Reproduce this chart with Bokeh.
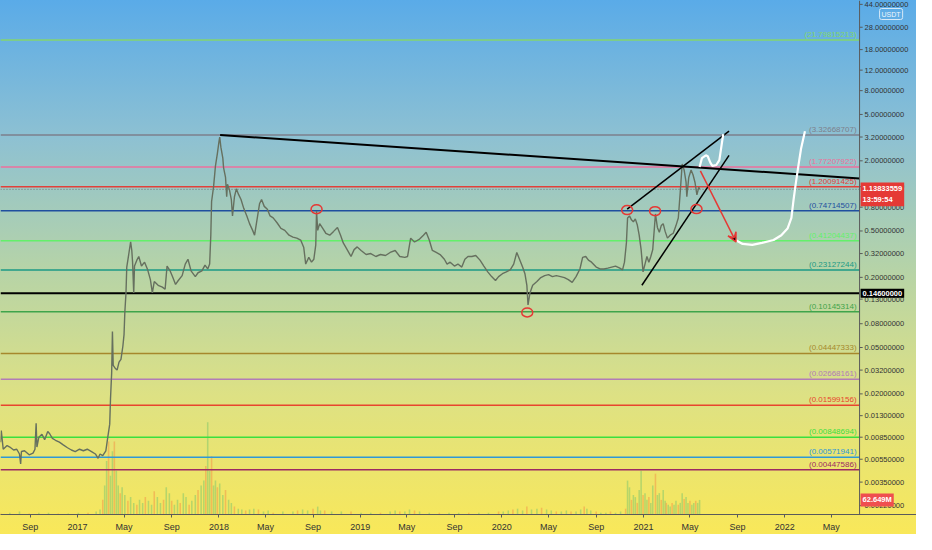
import pandas as pd

from bokeh.plotting import figure
from bokeh.models import (
    Range1d,
    LinearScale,
    FixedTicker,
    Span,
    Label,
    Arrow,
    VeeHead,
)
from bokeh.core.properties import value
from bokeh.embed import file_html
from bokeh.resources import INLINE

price_dates = [
    "2016-06-16", "2016-06-18", "2016-06-23", "2016-07-03", "2016-07-10", "2016-07-20",
    "2016-07-28", "2016-08-04", "2016-08-07", "2016-08-09", "2016-08-17", "2016-08-29",
    "2016-09-08", "2016-09-13", "2016-09-16", "2016-09-18", "2016-09-23", "2016-10-01",
    "2016-10-08", "2016-10-16", "2016-10-21", "2016-10-28", "2016-11-05", "2016-11-15",
    "2016-11-25", "2016-12-06", "2016-12-16", "2016-12-26", "2017-01-06", "2017-01-16",
    "2017-01-26", "2017-02-06", "2017-02-16", "2017-02-23", "2017-02-28", "2017-03-07",
    "2017-03-15", "2017-03-20", "2017-03-25", "2017-03-27", "2017-03-30", "2017-04-01",
    "2017-04-03", "2017-04-08", "2017-04-13", "2017-04-18", "2017-04-23", "2017-04-28",
    "2017-05-01", "2017-05-03", "2017-05-06", "2017-05-08", "2017-05-13", "2017-05-18",
    "2017-05-21", "2017-05-23", "2017-05-26", "2017-05-28", "2017-06-03", "2017-06-08",
    "2017-06-15", "2017-06-23", "2017-07-01", "2017-07-08", "2017-07-13", "2017-07-18",
    "2017-07-28", "2017-08-08", "2017-08-15", "2017-08-20", "2017-08-28", "2017-09-03",
    "2017-09-11", "2017-09-18", "2017-09-28", "2017-10-06", "2017-10-13", "2017-10-21",
    "2017-11-01", "2017-11-08", "2017-11-18", "2017-11-26", "2017-12-03", "2017-12-08",
    "2017-12-11", "2017-12-13", "2017-12-18", "2017-12-23", "2017-12-28", "2018-01-01",
    "2018-01-03", "2018-01-06", "2018-01-11", "2018-01-13", "2018-01-18", "2018-01-21",
    "2018-01-23", "2018-01-28", "2018-02-02", "2018-02-05", "2018-02-10", "2018-02-15",
    "2018-02-20", "2018-02-27", "2018-03-06", "2018-03-14", "2018-03-21", "2018-03-29",
    "2018-04-03", "2018-04-08", "2018-04-16", "2018-04-21", "2018-04-28", "2018-05-06",
    "2018-05-13", "2018-05-21", "2018-05-31", "2018-06-10", "2018-06-20", "2018-07-01",
    "2018-07-11", "2018-07-21", "2018-07-31", "2018-08-08", "2018-08-13", "2018-08-21",
    "2018-08-28", "2018-09-03", "2018-09-08", "2018-09-10", "2018-09-13", "2018-09-18",
    "2018-09-26", "2018-10-04", "2018-10-14", "2018-10-24", "2018-11-03", "2018-11-11",
    "2018-11-18", "2018-11-28", "2018-12-08", "2018-12-16", "2018-12-24", "2019-01-03",
    "2019-01-16", "2019-01-28", "2019-02-10", "2019-02-22", "2019-03-07", "2019-03-19",
    "2019-04-01", "2019-04-13", "2019-04-26", "2019-05-03", "2019-05-11", "2019-05-21",
    "2019-06-03", "2019-06-13", "2019-06-20", "2019-06-28", "2019-07-06", "2019-07-16",
    "2019-07-26", "2019-08-06", "2019-08-13", "2019-08-21", "2019-09-01", "2019-09-10",
    "2019-09-20", "2019-09-28", "2019-10-06", "2019-10-16", "2019-10-26", "2019-11-06",
    "2019-11-16", "2019-11-26", "2019-12-06", "2019-12-16", "2019-12-24", "2020-01-03",
    "2020-01-13", "2020-01-23", "2020-02-01", "2020-02-09", "2020-02-16", "2020-02-24",
    "2020-03-01", "2020-03-06", "2020-03-09", "2020-03-14", "2020-03-21", "2020-04-01",
    "2020-04-11", "2020-04-21", "2020-05-01", "2020-05-11", "2020-05-21", "2020-06-01",
    "2020-06-11", "2020-06-21", "2020-07-01", "2020-07-11", "2020-07-21", "2020-07-28",
    "2020-08-05", "2020-08-12", "2020-08-20", "2020-09-01", "2020-09-11", "2020-09-21",
    "2020-10-01", "2020-10-11", "2020-10-21", "2020-11-01", "2020-11-08", "2020-11-13",
    "2020-11-18", "2020-11-21", "2020-11-26", "2020-12-01", "2020-12-06", "2020-12-11",
    "2020-12-16", "2020-12-21", "2020-12-26", "2020-12-31", "2021-01-05", "2021-01-10",
    "2021-01-15", "2021-01-20", "2021-01-25", "2021-02-01", "2021-02-06", "2021-02-11",
    "2021-02-16", "2021-02-21", "2021-02-26", "2021-03-04", "2021-03-11", "2021-03-19",
    "2021-03-26", "2021-04-01", "2021-04-06", "2021-04-11", "2021-04-16", "2021-04-21",
    "2021-04-23", "2021-04-28", "2021-05-04", "2021-05-09", "2021-05-14", "2021-05-19",
    "2021-05-24", "2021-05-26",
]
price_values = [
    0.0077, 0.0097, 0.0067, 0.0072, 0.0070, 0.0066,
    0.0067, 0.0061, 0.0050, 0.0064, 0.0065, 0.0060,
    0.0062, 0.0067, 0.0112, 0.0070, 0.0085, 0.0090,
    0.0081, 0.0095, 0.0091, 0.0083, 0.0080, 0.0077,
    0.0073, 0.0069, 0.0066, 0.0064, 0.0067, 0.0065,
    0.0067, 0.0064, 0.0061, 0.0056, 0.0061, 0.0059,
    0.0065, 0.0085, 0.0110, 0.0181, 0.0302, 0.0686,
    0.0352, 0.0332, 0.0320, 0.0374, 0.0395, 0.0515,
    0.0649, 0.100, 0.147, 0.245, 0.314, 0.403,
    0.340, 0.270, 0.147, 0.250, 0.281, 0.302,
    0.250, 0.270, 0.232, 0.191, 0.147, 0.184,
    0.171, 0.165, 0.158, 0.250, 0.227, 0.203,
    0.174, 0.188, 0.207, 0.260, 0.286, 0.227,
    0.203, 0.219, 0.227, 0.255, 0.236, 0.260,
    0.460, 0.895, 1.19, 1.81, 2.32, 2.91,
    3.20, 2.62, 2.11, 1.74, 1.44, 0.984,
    1.26, 1.13, 0.930, 0.673, 0.984, 1.15,
    1.04, 0.930, 0.782, 0.673, 0.578, 0.506,
    0.460, 0.588, 0.861, 0.930, 0.813, 0.769,
    0.673, 0.647, 0.588, 0.526, 0.506, 0.460,
    0.443, 0.434, 0.418, 0.360, 0.260, 0.297,
    0.270, 0.286, 0.380, 0.740, 0.506, 0.578,
    0.526, 0.478, 0.460, 0.496, 0.536, 0.460,
    0.395, 0.346, 0.302, 0.346, 0.365, 0.340,
    0.314, 0.320, 0.302, 0.314, 0.308, 0.327,
    0.340, 0.302, 0.297, 0.302, 0.434, 0.402,
    0.426, 0.460, 0.487, 0.418, 0.340, 0.327,
    0.314, 0.286, 0.260, 0.270, 0.250, 0.260,
    0.245, 0.286, 0.302, 0.302, 0.308, 0.281,
    0.250, 0.223, 0.203, 0.188, 0.203, 0.215,
    0.223, 0.232, 0.260, 0.327, 0.286, 0.245,
    0.215, 0.171, 0.116, 0.147, 0.171, 0.184,
    0.199, 0.207, 0.211, 0.203, 0.207, 0.203,
    0.199, 0.191, 0.181, 0.203, 0.236, 0.297,
    0.302, 0.281, 0.270, 0.245, 0.236, 0.236,
    0.240, 0.245, 0.250, 0.240, 0.232, 0.270,
    0.395, 0.647, 0.673, 0.623, 0.599, 0.635,
    0.566, 0.460, 0.346, 0.223, 0.260, 0.302,
    0.270, 0.302, 0.346, 0.700, 0.536, 0.487,
    0.556, 0.578, 0.496, 0.434, 0.460, 0.478,
    0.556, 0.647, 1.08, 1.88, 1.67, 1.31,
    0.984, 1.44, 1.67, 1.52, 1.31, 1.02,
    1.19, 1.13833559,
]

vol_dates = [
    "2016-06-16", "2016-07-10", "2016-08-04", "2016-08-29", "2016-09-23", "2016-10-18",
    "2016-11-12", "2016-12-08", "2017-01-03", "2017-01-28", "2017-02-18", "2017-02-28",
    "2017-03-07", "2017-03-12", "2017-03-17", "2017-03-22", "2017-03-27", "2017-04-01",
    "2017-04-06", "2017-04-11", "2017-04-16", "2017-04-21", "2017-04-26", "2017-05-03",
    "2017-05-11", "2017-05-18", "2017-05-26", "2017-06-03", "2017-06-10", "2017-06-18",
    "2017-06-25", "2017-07-03", "2017-07-11", "2017-07-18", "2017-07-26", "2017-08-03",
    "2017-08-11", "2017-08-18", "2017-08-26", "2017-09-01", "2017-09-08", "2017-09-16",
    "2017-09-23", "2017-10-01", "2017-10-08", "2017-10-16", "2017-10-23", "2017-11-01",
    "2017-11-08", "2017-11-16", "2017-11-23", "2017-11-28", "2017-12-03", "2017-12-08",
    "2017-12-13", "2017-12-18", "2017-12-23", "2017-12-28", "2018-01-03", "2018-01-11",
    "2018-01-18", "2018-01-26", "2018-02-02", "2018-02-10", "2018-02-20", "2018-03-01",
    "2018-03-11", "2018-03-21", "2018-04-01", "2018-04-13", "2018-04-26", "2018-05-08",
    "2018-05-21", "2018-06-15", "2018-07-11", "2018-07-23", "2018-08-05", "2018-08-18",
    "2018-09-01", "2018-09-13", "2018-09-20", "2018-10-01", "2018-10-19", "2018-11-13",
    "2018-12-08", "2019-01-03", "2019-01-28", "2019-02-22", "2019-03-19", "2019-04-01",
    "2019-04-13", "2019-04-26", "2019-05-08", "2019-05-21", "2019-06-03", "2019-06-28",
    "2019-07-24", "2019-08-18", "2019-09-12", "2019-10-08", "2019-11-03", "2019-11-28",
    "2019-12-24", "2020-01-05", "2020-01-18", "2020-01-30", "2020-02-11", "2020-02-24",
    "2020-03-06", "2020-03-18", "2020-04-01", "2020-04-13", "2020-04-26", "2020-05-08",
    "2020-05-21", "2020-06-03", "2020-06-16", "2020-06-28", "2020-07-11", "2020-07-23",
    "2020-08-01", "2020-08-08", "2020-08-18", "2020-09-01", "2020-09-13", "2020-09-26",
    "2020-10-08", "2020-10-21", "2020-11-03", "2020-11-16", "2020-11-21", "2020-11-26",
    "2020-12-01", "2020-12-06", "2020-12-11", "2020-12-16", "2020-12-21", "2020-12-26",
    "2020-12-31", "2021-01-05", "2021-01-10", "2021-01-15", "2021-01-20", "2021-01-25",
    "2021-02-01", "2021-02-06", "2021-02-11", "2021-02-16", "2021-02-21", "2021-02-26",
    "2021-03-01", "2021-03-06", "2021-03-11", "2021-03-16", "2021-03-21", "2021-03-26",
    "2021-04-01", "2021-04-06", "2021-04-11", "2021-04-16", "2021-04-21", "2021-04-26",
    "2021-05-01", "2021-05-06", "2021-05-11", "2021-05-16", "2021-05-21", "2021-05-26",
]
vol_values = [
    8, 8, 13, 4, 8, 8,
    4, 4, 8, 8, 13, 21,
    63, 125, 230, 314, 167, 272,
    314, 188, 125, 92, 117, 84,
    59, 75, 50, 42, 63, 50,
    75, 59, 42, 100, 75, 50,
    63, 117, 92, 59, 42, 63,
    50, 92, 75, 42, 59, 84,
    105, 125, 146, 209, 397, 188,
    251, 125, 146, 117, 134, 84,
    105, 63, 50, 34, 25, 21,
    17, 21, 25, 21, 13, 17,
    8, 13, 13, 17, 21, 17,
    25, 34, 17, 17, 13, 13,
    13, 8, 8, 8, 13, 17,
    13, 13, 21, 17, 13, 8,
    8, 8, 8, 8, 8, 8,
    13, 13, 17, 21, 25, 17,
    34, 21, 25, 29, 21, 17,
    13, 13, 17, 13, 13, 21,
    34, 25, 17, 13, 8, 8,
    13, 8, 13, 25, 146, 117,
    63, 84, 75, 50, 105, 188,
    84, 92, 63, 75, 50, 125,
    176, 84, 92, 63, 105, 59,
    50, 42, 34, 50, 42, 59,
    42, 50, 92, 67, 75, 50,
    59, 42, 50, 59, 50, 62.649,
]

fib_levels = [21.79815213, 3.32668707, 1.77207922, 1.20091425, 0.74714507, 0.41204437,
              0.23127244, 0.10145314, 0.04447333, 0.02668161, 0.01599156, 0.00848694,
              0.00571941, 0.00447586]
fib_colors = ["#84d66c", "#7d7f8c", "#ec6f9c", "#e2403a", "#1f4f9f", "#63f06a",
              "#1b9a86", "#3fa44b", "#a6882c", "#b27cb6", "#e8452e", "#3ae03e",
              "#2f98d6", "#9c2a64"]
fib_labels = ["(%.8f)" % v for v in fib_levels]

y_ticks = [44, 28, 18, 12, 8, 5, 3.2, 2, 1.2, 0.8, 0.5, 0.32, 0.2, 0.13, 0.08, 0.05,
           0.032, 0.02, 0.013, 0.0085, 0.0055, 0.0035, 0.0022]
x_tick_dates = ["2016-09-01", "2017-01-01", "2017-05-01", "2017-09-01", "2018-01-01",
                "2018-05-01", "2018-09-01", "2019-01-01", "2019-05-01", "2019-09-01",
                "2020-01-01", "2020-05-01", "2020-09-01", "2021-01-01", "2021-05-01",
                "2021-09-01", "2022-01-01", "2022-05-01"]
x_tick_labels = ["Sep", "2017", "May", "Sep", "2018", "May", "Sep", "2019", "May", "Sep",
                 "2020", "May", "Sep", "2021", "May", "Sep", "2022", "May"]

support_level = 0.146
last_price = 1.13833559
countdown = "13:59:54"
last_volume = 62.649

trend_dates = ["2018-01-04", "2022-07-13"]
trend_values = [3.33, 1.41]
wedge_top_dates = ["2020-11-20", "2021-08-10"]
wedge_top_values = [0.769, 3.59]
wedge_low_dates = ["2020-12-28", "2021-08-10"]
wedge_low_values = [0.171, 2.23]
circle_dates = ["2018-09-10", "2020-03-07", "2020-11-20", "2021-01-31", "2021-05-18"]
circle_values = [0.769, 0.100, 0.755, 0.74, 0.77]
arrow_dates = ["2021-05-28", "2021-08-28"]
arrow_values = [1.64, 0.403]
squiggle_dates = ["2021-05-26", "2021-06-01", "2021-06-11", "2021-06-16", "2021-06-23",
                  "2021-06-28", "2021-07-08", "2021-07-16", "2021-07-21", "2021-07-26"]
squiggle_values = [1.77, 2.11, 2.23, 2.19, 1.92, 1.81, 1.84, 2.03, 2.62, 3.39]
hook_dates = ["2021-08-27", "2021-09-14", "2021-10-09", "2021-11-03", "2021-12-03",
              "2021-12-23", "2022-01-08", "2022-01-18", "2022-01-23", "2022-01-28",
              "2022-02-05", "2022-02-12", "2022-02-22"]
hook_values = [0.418, 0.387, 0.380, 0.395, 0.418, 0.460, 0.525, 0.647, 0.895, 1.19,
               1.81, 2.55, 3.59]


def ms(d):
    return pd.Timestamp(d).value / 1e6


def to_ms(dates):
    return [ms(d) for d in dates]


DAY = 86400000
x_start = ms("2016-06-16")
scale_x = ms("2022-07-13")   # where the price scale sits
x_stop = ms("2022-12-07")    # frame carries on under the price scale
FONT = "Liberation Sans"
AXIS = "#5a5a5a"

p = figure(
    width=916,
    height=534,
    x_axis_type="datetime",
    y_axis_type="log",
    x_range=Range1d(x_start, x_stop),
    y_range=Range1d(0.001845, 47.5),
    output_backend="svg",
    toolbar_location=None,
    min_border_left=0,
    min_border_top=0,
    min_border_right=0,
    min_border_bottom=0,
)
p.styles = {
    "background": "linear-gradient(to bottom, #5aabe8 0%, #8ec1d2 26%, #b5d3a8 50%, "
    "#dde184 74%, #f9e859 100%)"
}
p.background_fill_color = None
p.border_fill_color = None
p.outline_line_color = None
p.xgrid.visible = False
p.ygrid.visible = False
p.yaxis.visible = False

xa = p.xaxis[0]
xa.ticker = FixedTicker(ticks=to_ms(x_tick_dates))
xa.major_label_overrides = {ms(d): lab for d, lab in zip(x_tick_dates, x_tick_labels)}
xa.axis_line_color = AXIS
xa.major_tick_line_color = AXIS
xa.minor_tick_line_color = None
xa.major_tick_in = 0
xa.major_tick_out = 3
xa.major_label_standoff = 4
xa.major_label_text_font = FONT
xa.major_label_text_font_size = "9px"
xa.major_label_text_color = "#333333"

# volume on its own linear scale at the bottom
p.extra_y_ranges = {"vol": Range1d(0, 2214)}
p.extra_y_scales = {"vol": LinearScale()}
vol_colors = ["#8dca6c" if i % 3 else "#f29e4c" for i in range(len(vol_values))]
p.vbar(x=to_ms(vol_dates), top=vol_values, width=4 * DAY, y_range_name="vol",
       fill_color=vol_colors, fill_alpha=0.6, line_color=None)

# horizontal levels stop at the price scale
n = len(fib_levels)
p.segment(x0=[x_start] * n, x1=[scale_x] * n, y0=fib_levels, y1=fib_levels,
          line_color=fib_colors, line_width=1.5)
p.text(x=[scale_x] * n, y=fib_levels, text=fib_labels, x_offset=-3, y_offset=-1,
       text_align="right", text_baseline="bottom", text_font=value(FONT),
       text_font_size="8px", text_color=fib_colors)
p.segment(x0=[x_start], x1=[scale_x], y0=[support_level], y1=[support_level],
          line_color="black", line_width=2)
p.segment(x0=[x_start], x1=[scale_x], y0=[last_price], y1=[last_price],
          line_color="#6f6f6f", line_width=1, line_dash="1 2")

p.line(to_ms(price_dates), price_values, line_color="#66705f", line_width=1.4)

p.line(to_ms(trend_dates), trend_values, line_color="black", line_width=2)
p.line(to_ms(wedge_top_dates), wedge_top_values, line_color="black", line_width=1.5)
p.line(to_ms(wedge_low_dates), wedge_low_values, line_color="black", line_width=1.5)

p.ellipse(x=to_ms(circle_dates), y=circle_values, width=11, height=9,
          width_units="screen", height_units="screen", fill_color=None,
          line_color="#e53935", line_width=1.5)

ad = to_ms(arrow_dates)
p.add_layout(Arrow(end=VeeHead(size=9, line_color="#e53935", line_width=1.5),
                   x_start=ad[0], y_start=arrow_values[0],
                   x_end=ad[1], y_end=arrow_values[1],
                   line_color="#e53935", line_width=1.5))

p.line(to_ms(squiggle_dates), squiggle_values, line_color="white", line_width=2.2)
p.line(to_ms(hook_dates), hook_values, line_color="white", line_width=2.2)

# price scale on the right
p.add_layout(Span(location=scale_x, dimension="height", line_color=AXIS, line_width=1))
m = len(y_ticks)
p.segment(x0=[scale_x] * m, x1=[scale_x + 8 * DAY] * m, y0=y_ticks, y1=y_ticks,
          line_color=AXIS, line_width=1)
p.text(x=[scale_x] * m, y=y_ticks, text=["%.8f" % t for t in y_ticks], x_offset=5,
       text_align="left", text_baseline="middle", text_font=value(FONT),
       text_font_size="7.5px", text_color="#333333")

box = dict(text_align="left", text_baseline="middle", x_offset=1, text_font=FONT,
           text_font_size="7.5px", text_font_style="bold", text_color="white", padding=2)
p.add_layout(Label(x=scale_x, y=last_price, y_offset=-5,
                   text="%.8f\n%s" % (last_price, countdown),
                   background_fill_color="#e53935", **box))
p.add_layout(Label(x=scale_x, y=support_level, text="%.8f" % support_level,
                   background_fill_color="black", **box))
p.add_layout(Label(x=scale_x, y=last_volume, y_range_name="vol",
                   text="%.3fM" % last_volume, background_fill_color="#ef4f4f", **box))
p.add_layout(Label(x=scale_x, y=47.5, text="USDT", text_align="left",
                   text_baseline="top", x_offset=20, y_offset=-8,
                   text_font=FONT, text_font_size="7px", text_color="#eef6fc",
                   border_line_color="#d5e8f7", border_radius=2, padding=2))

open("out.html", "w").write(file_html(p, INLINE))
